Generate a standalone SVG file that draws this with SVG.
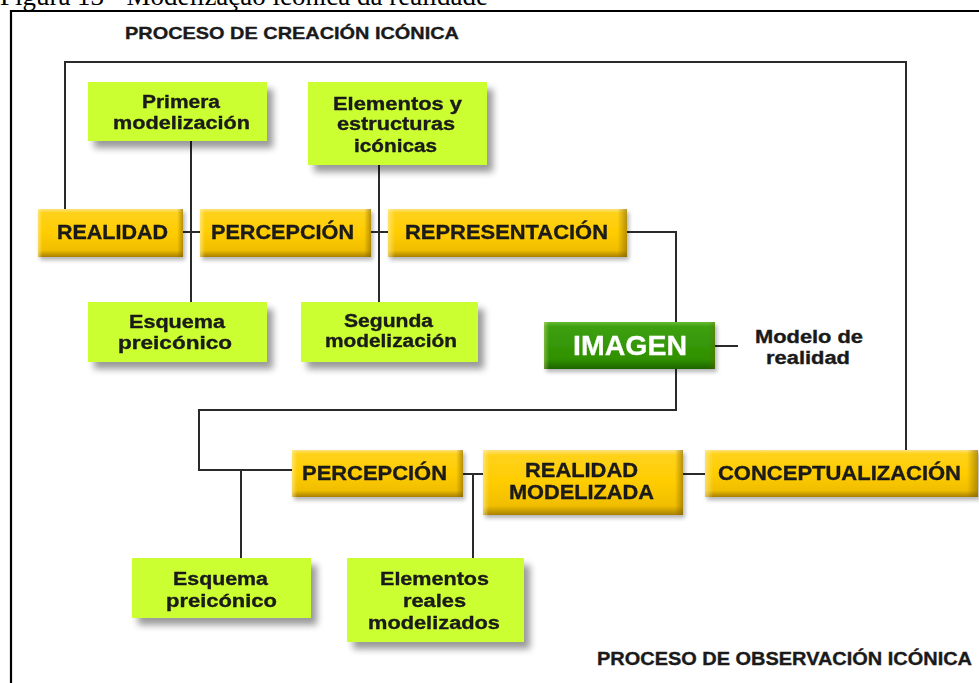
<svg xmlns="http://www.w3.org/2000/svg" width="979" height="683" viewBox="0 0 979 683">
<style>
.t{font-family:"Liberation Sans",Arial,Helvetica,sans-serif;font-weight:bold;fill:#1a1a1a;stroke:#1a1a1a;stroke-width:0.35;text-anchor:middle}
.lb{font-size:20px}
.gl{font-size:17.5px}
.conn{fill:none;stroke:#2a2a2a;stroke-width:2}
.gold{fill:url(#goldV)}
.edge{fill:url(#edgeH)}
.lime{fill:#CCFF33}
</style>
<defs>
<linearGradient id="goldV" x1="0" y1="0" x2="0" y2="1">
<stop offset="0" stop-color="#FFE27A"/>
<stop offset="0.08" stop-color="#FFD21A"/>
<stop offset="0.5" stop-color="#FFCC00"/>
<stop offset="0.86" stop-color="#F0BE00"/>
<stop offset="1" stop-color="#A88000"/>
</linearGradient>
<linearGradient id="edgeH" x1="0" y1="0" x2="1" y2="0">
<stop offset="0" stop-color="#FFF0A0" stop-opacity="0.6"/>
<stop offset="0.03" stop-color="#FFF0A0" stop-opacity="0"/>
<stop offset="0.96" stop-color="#7A5C00" stop-opacity="0"/>
<stop offset="1" stop-color="#7A5C00" stop-opacity="0.55"/>
</linearGradient>
<linearGradient id="greenV" x1="0" y1="0" x2="0" y2="1">
<stop offset="0" stop-color="#66BB33"/>
<stop offset="0.1" stop-color="#3DA010"/>
<stop offset="0.8" stop-color="#2F9000"/>
<stop offset="1" stop-color="#1E6200"/>
</linearGradient>
<filter id="sh" x="-20%" y="-30%" width="150%" height="180%">
<feGaussianBlur in="SourceAlpha" stdDeviation="3.5"/>
<feOffset dx="6" dy="7"/>
<feComponentTransfer><feFuncA type="linear" slope="0.4"/></feComponentTransfer>
<feMerge><feMergeNode/><feMergeNode in="SourceGraphic"/></feMerge>
</filter>
<filter id="sh2" x="-20%" y="-30%" width="150%" height="180%">
<feGaussianBlur in="SourceAlpha" stdDeviation="2"/>
<feOffset dx="2" dy="3"/>
<feComponentTransfer><feFuncA type="linear" slope="0.3"/></feComponentTransfer>
<feMerge><feMergeNode/><feMergeNode in="SourceGraphic"/></feMerge>
</filter>
</defs>
<rect width="979" height="683" fill="#fff"/>

<text x="0" y="5" font-family="'Liberation Serif','Times New Roman',serif" font-size="27" fill="#000" textLength="488" lengthAdjust="spacingAndGlyphs">Figura 13 - Modelização icônica da realidade</text>
<path d="M11,683 V11 H979" fill="none" stroke="#000" stroke-width="2.2"/>

<text class="t" x="292" y="39" font-size="17" textLength="334" lengthAdjust="spacingAndGlyphs">PROCESO DE CREACIÓN ICÓNICA</text>
<text class="t" x="784.5" y="665" font-size="18" textLength="375" lengthAdjust="spacingAndGlyphs">PROCESO DE OBSERVACIÓN ICÓNICA</text>

<g id="connectors">
<path class="conn" d="M65,209 V62 H906 V450"/>
<path class="conn" d="M191,141 V302"/>
<path class="conn" d="M183,232 H200"/>
<path class="conn" d="M379,165 V302"/>
<path class="conn" d="M371,232 H388"/>
<path class="conn" d="M627,232 H676 V322"/>
<path class="conn" d="M715,346 H738"/>
<path class="conn" d="M676,369 V410 H199 V470 H292"/>
<path class="conn" d="M241,470 V558"/>
<path class="conn" d="M463,474 H483"/>
<path class="conn" d="M473,474 V558"/>
<path class="conn" d="M683,474 H705"/>
</g>

<g id="primera-modelizacion" filter="url(#sh)">
<rect class="lime" x="88" y="82" width="179" height="59"/>
<text class="t gl" x="181" y="108" textLength="78" lengthAdjust="spacingAndGlyphs">Primera</text>
<text class="t gl" x="181.5" y="129" textLength="137" lengthAdjust="spacingAndGlyphs">modelización</text>
</g>
<g id="elementos-estructuras" filter="url(#sh)">
<rect class="lime" x="308" y="82" width="179" height="83"/>
<text class="t gl" x="397.5" y="110" textLength="129" lengthAdjust="spacingAndGlyphs">Elementos y</text>
<text class="t gl" x="396" y="130" textLength="118" lengthAdjust="spacingAndGlyphs">estructuras</text>
<text class="t gl" x="395.5" y="152" textLength="83" lengthAdjust="spacingAndGlyphs">icónicas</text>
</g>
<g id="esquema-preiconico-1" filter="url(#sh)">
<rect class="lime" x="88" y="302" width="179" height="60"/>
<text class="t gl" x="177" y="328" textLength="96" lengthAdjust="spacingAndGlyphs">Esquema</text>
<text class="t gl" x="175" y="349" textLength="114" lengthAdjust="spacingAndGlyphs">preicónico</text>
</g>
<g id="segunda-modelizacion" filter="url(#sh)">
<rect class="lime" x="301" y="302" width="177" height="60"/>
<text class="t gl" x="388.5" y="327" textLength="89" lengthAdjust="spacingAndGlyphs">Segunda</text>
<text class="t gl" x="391" y="347" textLength="132" lengthAdjust="spacingAndGlyphs">modelización</text>
</g>
<g id="esquema-preiconico-2" filter="url(#sh)">
<rect class="lime" x="132" y="558" width="179" height="60"/>
<text class="t gl" x="220.5" y="585" textLength="95" lengthAdjust="spacingAndGlyphs">Esquema</text>
<text class="t gl" x="221.5" y="607" textLength="111" lengthAdjust="spacingAndGlyphs">preicónico</text>
</g>
<g id="elementos-reales" filter="url(#sh)">
<rect class="lime" x="347" y="558" width="177" height="84"/>
<text class="t gl" x="434.5" y="585" textLength="109" lengthAdjust="spacingAndGlyphs">Elementos</text>
<text class="t gl" x="434.5" y="607" textLength="63" lengthAdjust="spacingAndGlyphs">reales</text>
<text class="t gl" x="434" y="629" textLength="132" lengthAdjust="spacingAndGlyphs">modelizados</text>
</g>

<g id="realidad" filter="url(#sh2)">
<rect class="gold" x="38" y="209" width="145" height="48"/>
<rect class="edge" x="38" y="209" width="145" height="48"/>
<text class="t lb" x="112.5" y="239" textLength="111" lengthAdjust="spacingAndGlyphs">REALIDAD</text>
</g>
<g id="percepcion-1" filter="url(#sh2)">
<rect class="gold" x="200" y="209" width="171" height="48"/>
<rect class="edge" x="200" y="209" width="171" height="48"/>
<text class="t lb" x="282.5" y="239" textLength="143" lengthAdjust="spacingAndGlyphs">PERCEPCIÓN</text>
</g>
<g id="representacion" filter="url(#sh2)">
<rect class="gold" x="388" y="209" width="239" height="48"/>
<rect class="edge" x="388" y="209" width="239" height="48"/>
<text class="t lb" x="506.5" y="239" textLength="203" lengthAdjust="spacingAndGlyphs">REPRESENTACIÓN</text>
</g>
<g id="imagen" filter="url(#sh2)">
<rect x="544" y="322" width="171" height="47" fill="url(#greenV)"/>
<rect class="edge" x="544" y="322" width="171" height="47" opacity="0.6"/>
<text class="t" x="630" y="355" font-size="28" style="fill:#fff;stroke:#fff;stroke-width:0.3" textLength="114" lengthAdjust="spacingAndGlyphs">IMAGEN</text>
</g>
<g id="modelo-de-realidad">
<text class="t gl" x="809" y="343" textLength="108" lengthAdjust="spacingAndGlyphs">Modelo de</text>
<text class="t gl" x="808" y="364" textLength="84" lengthAdjust="spacingAndGlyphs">realidad</text>
</g>
<g id="percepcion-2" filter="url(#sh2)">
<rect class="gold" x="292" y="450" width="171" height="47"/>
<rect class="edge" x="292" y="450" width="171" height="47"/>
<text class="t lb" x="374.5" y="480" textLength="145" lengthAdjust="spacingAndGlyphs">PERCEPCIÓN</text>
</g>
<g id="realidad-modelizada" filter="url(#sh2)">
<rect class="gold" x="483" y="450" width="200" height="65"/>
<rect class="edge" x="483" y="450" width="200" height="65"/>
<text class="t lb" x="581.5" y="477" textLength="113" lengthAdjust="spacingAndGlyphs">REALIDAD</text>
<text class="t lb" x="581.5" y="499" textLength="145" lengthAdjust="spacingAndGlyphs">MODELIZADA</text>
</g>
<g id="conceptualizacion" filter="url(#sh2)">
<rect class="gold" x="705" y="450" width="273" height="47"/>
<rect class="edge" x="705" y="450" width="273" height="47"/>
<text class="t lb" x="839.5" y="480" textLength="243" lengthAdjust="spacingAndGlyphs">CONCEPTUALIZACIÓN</text>
</g>
</svg>
